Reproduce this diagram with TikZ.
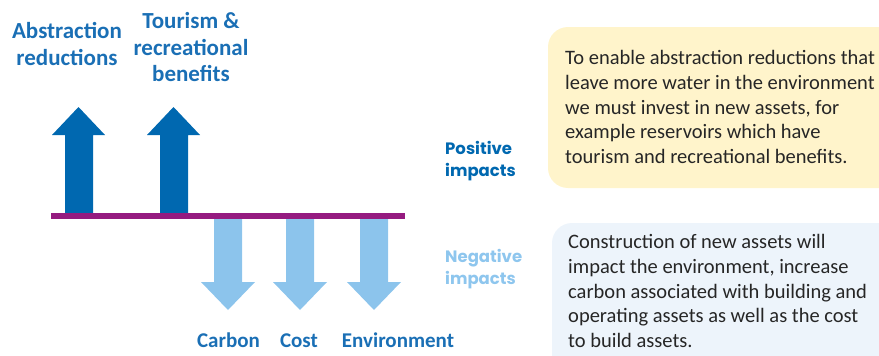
\documentclass[tikz,border=0pt]{standalone}
\usepackage{fontspec}
\setmainfont{Carlito}
\newfontfamily\popfont{Poppins}
\definecolor{darkblue}{HTML}{0068B0}
\definecolor{labelblue}{HTML}{1A6FB5}
\definecolor{lightarrow}{HTML}{8CC4EC}
\definecolor{negtext}{HTML}{8EC6EE}
\definecolor{barpurple}{HTML}{951B80}
\definecolor{yellowfill}{HTML}{FFF4CB}
\definecolor{bluefill}{HTML}{EDF4FB}
\definecolor{bodytext}{HTML}{262626}
\begin{document}
\begin{tikzpicture}[x=1pt,y=-1pt,
  uparrow/.style={fill=darkblue},
  downarrow/.style={fill=lightarrow},
  biglabel/.style={font=\bfseries\fontsize{23}{26.8}\selectfont, text=labelblue, inner sep=0pt, align=center},
  smalllabel/.style={font=\bfseries\fontsize{21}{25}\selectfont, text=labelblue, inner sep=0pt, anchor=base},
  impactlabel/.style={font=\popfont\bfseries\fontsize{16.5}{22}\selectfont, inner sep=0pt, align=left, anchor=north west},
  bodybox/.style={font=\fontsize{20.5}{24.6}\selectfont, text=bodytext, inner sep=0pt, align=left, anchor=north west}]
\useasboundingbox (0,0) rectangle (879,356);
% text panels
\fill[yellowfill, rounded corners=20pt] (548,27) rectangle (900,188);
\fill[bluefill, rounded corners=20pt] (552,223) rectangle (900,375);
% up arrows
\fill[uparrow] (65,214) -- (65,135) -- (52,135) -- (78.5,107) -- (105,135) -- (93,135) -- (93,214) -- cycle;
\fill[uparrow] (160,214) -- (160,135) -- (147,135) -- (173.5,107) -- (200,135) -- (188,135) -- (188,214) -- cycle;
% down arrows
\fill[downarrow] (214,218) -- (214,282) -- (201,282) -- (228,310) -- (255,282) -- (242,282) -- (242,218) -- cycle;
\fill[downarrow] (286,218) -- (286,282) -- (273,282) -- (300,310) -- (327,282) -- (314,282) -- (314,218) -- cycle;
\fill[downarrow] (360,218) -- (360,282) -- (347,282) -- (374,310) -- (401,282) -- (388,282) -- (388,218) -- cycle;
% bar
\fill[barpurple] (51,213) rectangle (405,219);
% labels
\node[biglabel, anchor=north] (abs) at (67,22) {Abstraction\\reductions};
\node[biglabel, anchor=north] (tour) at (191,12) {Tourism \&\\recreational\\benefits};
\node[impactlabel, text=darkblue] (pos) at (445,141) {Positive\\impacts};
\node[impactlabel, text=negtext] (neg) at (445,249) {Negative\\impacts};
\node[smalllabel] (carbon) at (228.5,347) {Carbon};
\node[smalllabel] (cost) at (299,347) {Cost};
\node[smalllabel] (env) at (398,347) {Environment};
% body texts
\node[bodybox] (ytext) at (565,50.5) {To enable abstraction reductions that\\leave more water in the environment\\we must invest in new assets, for\\example reservoirs which have\\tourism and recreational benefits.};
\node[bodybox] (btext) at (568,234.5) {Construction of new assets will\\impact the environment, increase\\carbon associated with building and\\operating assets as well as the cost\\to build assets.};
\end{tikzpicture}
\end{document}
